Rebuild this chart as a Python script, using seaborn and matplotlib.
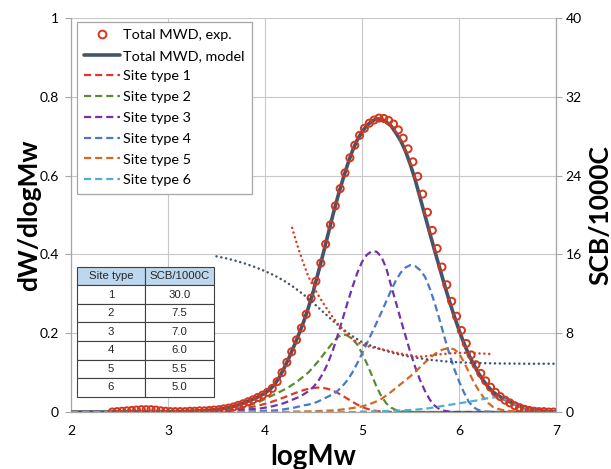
import numpy as np
import pandas as pd
import matplotlib
matplotlib.use("Agg")
import matplotlib.pyplot as plt
import seaborn as sns
from matplotlib.lines import Line2D

# ---------------- data ----------------
# common logMw grid for the model curves: 2.00, 2.05, ..., 7.00
MODEL_DW = [
    0, 0, 0, 0, 0, 0, 0, 0, 0, 0,
    0, 0, 0, 0, 0, 0, 0, 0, 0, 0,
    .0005, .0005, .001, .001, .0015, .002, .0025, .003, .004, .005,
    .006, .008, .010, .013, .016, .020, .025, .030, .035, .041,
    .048, .057, .070, .089, .113, .139, .168, .198, .230, .267,
    .308, .355, .402, .451, .500, .546, .588, .627, .662, .690,
    .711, .727, .738, .744, .743, .736, .726, .708, .688, .661,
    .627, .588, .543, .498, .453, .409, .366, .323, .282, .244,
    .208, .175, .146, .121, .099, .080, .064, .051, .042, .035,
    .029, .023, .018, .013, .009, .006, .004, .0025, .0015, .001,
    .0005]

SITE1_DW = [
    0, 0, 0, 0, 0, 0, 0, 0, 0, 0,
    0, 0, 0, 0, 0, 0, 0, 0, 0, 0,
    .0003, .0004, .0005, .0007, .0008, .0010, .0013, .0016, .0020, .0025,
    .0030, .0038, .0046, .0056, .0069, .0084, .0101, .0122, .0147, .0175,
    .0207, .0243, .0284, .0328, .0374, .0422, .0471, .0516, .0557, .0590,
    .0612, .0620, .0612, .0585, .0542, .0483, .0413, .0337, .0261, .0190,
    .0130, .0082, .0048, .0025, .0012, .0005, .0002, 0, 0, 0,
    0, 0, 0, 0, 0, 0, 0, 0, 0, 0,
    0, 0, 0, 0, 0, 0, 0, 0, 0, 0,
    0, 0, 0, 0, 0, 0, 0, 0, 0, 0,
    0]

SITE2_DW = [
    0, 0, 0, 0, 0, 0, 0, 0, 0, 0,
    0, 0, 0, 0, 0, 0, 0, 0, 0, 0,
    0, 0, 0, 0, .0005, .0008, .001, .0015, .002, .0025,
    .003, .004, .005, .006, .008, .010, .014, .018, .022, .027,
    .033, .039, .045, .051, .057, .064, .072, .081, .091, .101,
    .115, .129, .145, .161, .176, .190, .197, .194, .185, .172,
    .149, .123, .094, .064, .040, .022, .011, .005, .002, .001,
    0, 0, 0, 0, 0, 0, 0, 0, 0, 0,
    0, 0, 0, 0, 0, 0, 0, 0, 0, 0,
    0, 0, 0, 0, 0, 0, 0, 0, 0, 0,
    0]

SITE3_DW = [
    0, 0, 0, 0, 0, 0, 0, 0, 0, 0,
    0, 0, 0, 0, 0, 0, 0, 0, 0, 0,
    0, 0, 0, 0, 0, 0, 0, 0, .0005, .001,
    .0015, .002, .0025, .003, .004, .005, .006, .007, .008, .009,
    .011, .013, .016, .019, .023, .028, .033, .038, .045, .053,
    .064, .079, .099, .125, .157, .195, .236, .277, .316, .352,
    .381, .399, .408, .407, .394, .365, .321, .278, .234, .192,
    .150, .113, .080, .053, .031, .016, .007, .003, .001, 0,
    0, 0, 0, 0, 0, 0, 0, 0, 0, 0,
    0, 0, 0, 0, 0, 0, 0, 0, 0, 0,
    0]

SITE4_DW = [
    0, 0, 0, 0, 0, 0, 0, 0, 0, 0,
    0, 0, 0, 0, 0, 0, 0, 0, 0, 0,
    0, 0, 0, 0, 0, 0, 0, 0, 0, 0,
    0, 0, 0, 0, 0, 0, .001, .0015, .002, .0025,
    .003, .0035, .004, .005, .007, .009, .011, .014, .017, .019,
    .022, .027, .033, .039, .045, .054, .066, .081, .100, .123,
    .148, .174, .200, .226, .253, .281, .309, .334, .354, .367,
    .373, .370, .360, .343, .313, .276, .234, .190, .148, .110,
    .078, .050, .026, .012, .005, .002, .001, 0, 0, 0,
    0, 0, 0, 0, 0, 0, 0, 0, 0, 0,
    0]

SITE5_DW = [
    0, 0, 0, 0, 0, 0, 0, 0, 0, 0,
    0, 0, 0, 0, 0, 0, 0, 0, 0, 0,
    0, 0, 0, 0, 0, 0, 0, 0, 0, 0,
    0, 0, 0, 0, 0, 0, 0, 0, 0, 0,
    0, 0, 0, 0, 0, 0, .001, .001, .0015, .0015,
    .002, .0025, .003, .0035, .004, .005, .0065, .008, .010, .012,
    .014, .018, .022, .027, .033, .042, .051, .061, .071, .081,
    .091, .102, .114, .126, .137, .147, .155, .160, .162, .159,
    .149, .127, .102, .077, .056, .038, .023, .013, .008, .005,
    .003, .002, .001, 0, 0, 0, 0, 0, 0, 0,
    0]

SITE6_DW = [
    0, 0, 0, 0, 0, 0, 0, 0, 0, 0,
    0, 0, 0, 0, 0, 0, 0, 0, 0, 0,
    0, 0, 0, 0, 0, 0, 0, 0, 0, 0,
    0, 0, 0, 0, 0, 0, 0, 0, 0, 0,
    0, 0, 0, 0, 0, 0, 0, 0, 0, 0,
    0, 0, 0, 0, 0, 0, 0, 0, 0, 0,
    .001, .001, .0015, .0015, .002, .0025, .003, .0035, .004, .0045,
    .005, .006, .007, .008, .010, .012, .014, .016, .018, .020,
    .022, .024, .026, .028, .030, .033, .035, .037, .037, .034,
    .029, .023, .017, .012, .008, .005, .003, .002, .001, 0,
    0]

# experimental MWD points: logMw = 2.425, 2.475, ..., 6.975
EXP_DW = [
    .000, .001, .002, .003, .004, .005, .006, .006, .006, .005,
    .003, .002, .001, .001, .001, .001, .002, .002, .003, .003,
    .004, .005, .006, .008, .010, .013, .017, .021, .026, .031,
    .037, .043, .050, .060, .077, .100, .126, .153, .183, .213,
    .248, .289, .332, .378, .426, .475, .523, .567, .607, .645,
    .677, .702, .720, .733, .741, .746, .745, .740, .731, .716,
    .695, .668, .635, .598, .553, .507, .461, .415, .368, .323,
    .281, .243, .207, .174, .145, .120, .098, .079, .063, .050,
    .039, .030, .023, .016, .011, .007, .004, .002, .001, .001,
    .000, .000]

# SCB/1000C (right axis)
SCB_MODEL_LOGMW = [3.5, 3.6, 3.7, 3.8, 3.9, 4.0, 4.1, 4.2, 4.3, 4.4, 4.5, 4.6,
                   4.7, 4.8, 4.9, 5.0, 5.1, 5.2, 5.3, 5.4, 5.5, 5.6, 5.7, 5.8,
                   5.9, 6.0, 6.1, 6.2, 6.3, 6.4, 6.5, 6.6, 6.7, 6.8, 6.9, 7.0]
SCB_MODEL = [15.8, 15.6, 15.35, 15.05, 14.7, 14.3, 13.85, 13.3, 12.65, 11.9,
             11.05, 10.15, 9.25, 8.45, 7.7, 7.1, 6.7, 6.35, 6.05, 5.8, 5.6,
             5.45, 5.3, 5.2, 5.1, 5.05, 5.0, 4.97, 4.95, 4.93, 4.92, 4.91,
             4.9, 4.9, 4.9, 4.9]

SCB_EXP_LOGMW = [4.28, 4.30, 4.35, 4.40, 4.45, 4.50, 4.55, 4.60, 4.65, 4.70,
                 4.75, 4.80, 4.85, 4.90, 4.95, 5.00, 5.05, 5.10, 5.15, 5.20,
                 5.25, 5.30, 5.35, 5.40, 5.45, 5.50, 5.55, 5.60, 5.65, 5.70,
                 5.75, 5.80, 5.85, 5.90, 5.95, 6.00, 6.05, 6.10, 6.15, 6.20,
                 6.25, 6.30, 6.35]
SCB_EXP = [18.7, 18.0, 16.4, 15.0, 13.7, 12.7, 11.85, 11.05, 10.3, 9.6,
           8.95, 8.4, 7.9, 7.4, 7.1, 6.85, 6.7, 6.57, 6.47, 6.38,
           6.27, 6.15, 6.03, 5.93, 5.83, 5.73, 5.65, 5.62, 5.65, 5.72,
           5.79, 5.85, 5.9, 5.94, 5.97, 6.0, 6.01, 6.0, 5.98, 5.95,
           5.93, 5.9, 5.88]

TABLE_SITES = ["1", "2", "3", "4", "5", "6"]
TABLE_SCB = ["30.0", "7.5", "7.0", "6.0", "5.5", "5.0"]

LEGEND_LABELS = ["Total MWD, exp.", "Total MWD, model", "Site type 1",
                 "Site type 2", "Site type 3", "Site type 4", "Site type 5",
                 "Site type 6"]
X_TICKS = [2, 3, 4, 5, 6, 7]
Y_TICKS = [0, 0.2, 0.4, 0.6, 0.8, 1.0]
Y_TICKLABELS = ["0", "0.2", "0.4", "0.6", "0.8", "1"]
Y2_TICKS = [0, 8, 16, 24, 32, 40]

# ---------------- styling ----------------
EXP_RED = "#D2381F"
MODEL_C = "#44546A"
SITE_COLORS = ["#DC3A26", "#5B8C32", "#7432A8", "#4A78C8", "#D4691E", "#4DB0CF"]
GRID_C = "#C8C8C8"
AX_C = "#A6A6A6"
DASH = (0, (3.2, 1.8))
DOT = (0, (0.05, 1.9))

sns.set_theme(style="white")
plt.rcParams["font.family"] = ["Lato", "DejaVu Sans"]

logmw = [round(2.0 + 0.05 * i, 2) for i in range(len(MODEL_DW))]
exp_logmw = [round(2.425 + 0.05 * i, 3) for i in range(len(EXP_DW))]

curves = pd.DataFrame({"logMw": logmw, "model": MODEL_DW,
                       "s1": SITE1_DW, "s2": SITE2_DW, "s3": SITE3_DW,
                       "s4": SITE4_DW, "s5": SITE5_DW, "s6": SITE6_DW})
exp_df = pd.DataFrame({"logMw": exp_logmw, "dw": EXP_DW})
scb_m = pd.DataFrame({"logMw": SCB_MODEL_LOGMW, "scb": SCB_MODEL})
scb_e = pd.DataFrame({"logMw": SCB_EXP_LOGMW, "scb": SCB_EXP})

fig = plt.figure(figsize=(6.11, 4.69), dpi=100)
ax = fig.add_axes([71 / 611, 1 - 412 / 469, 485 / 611, 394 / 469])

# model total
sns.lineplot(data=curves, x="logMw", y="model", ax=ax, color=MODEL_C,
             linewidth=2.6, errorbar=None, zorder=3)
# site components
for i, col in enumerate(["s1", "s2", "s3", "s4", "s5", "s6"]):
    sns.lineplot(data=curves, x="logMw", y=col, ax=ax, color=SITE_COLORS[i],
                 linewidth=1.6, linestyle=DASH, errorbar=None, zorder=4)
# experimental points
sns.scatterplot(data=exp_df, x="logMw", y="dw", ax=ax, marker="o", s=26,
                color=EXP_RED, facecolors="none", edgecolor=EXP_RED,
                linewidth=1.4, zorder=5)

ax.set_xlim(2, 7)
ax.set_ylim(0, 1)
ax.set_xticks(X_TICKS)
ax.set_xticklabels([str(t) for t in X_TICKS])
ax.set_yticks(Y_TICKS)
ax.set_yticklabels(Y_TICKLABELS)
ax.grid(True, color=GRID_C, linewidth=0.8)
ax.set_axisbelow(True)
for s in ["left", "bottom"]:
    ax.spines[s].set_color(AX_C)
    ax.spines[s].set_linewidth(0.9)
ax.spines["top"].set_visible(False)
ax.spines["right"].set_visible(False)
ax.tick_params(axis="y", which="both", left=True, direction="out", length=4,
               width=0.8, color=AX_C, pad=5, labelsize=10, labelcolor="#000000")
ax.tick_params(axis="x", which="both", bottom=False, length=0, pad=9,
               labelsize=10, labelcolor="#000000")

ax.set_xlabel("logMw", fontsize=20, fontweight="bold", color="#000000")
ax.set_ylabel("dW/dlogMw", fontsize=19, fontweight="bold", color="#000000")
ax.xaxis.set_label_coords(0.5, -0.08)
ax.yaxis.set_label_coords(-0.062, 0.5)

# right axis: SCB
ax2 = ax.twinx()
sns.lineplot(data=scb_m, x="logMw", y="scb", ax=ax2, color=MODEL_C,
             linewidth=1.8, linestyle=DOT, errorbar=None, dash_capstyle="round")
sns.lineplot(data=scb_e, x="logMw", y="scb", ax=ax2, color=SITE_COLORS[0],
             linewidth=1.8, linestyle=DOT, errorbar=None, dash_capstyle="round")
ax2.set_ylim(0, 40)
ax2.set_yticks(Y2_TICKS)
ax2.set_yticklabels([str(t) for t in Y2_TICKS])
ax2.grid(False)
for s in ["left", "top", "bottom"]:
    ax2.spines[s].set_visible(False)
ax2.spines["right"].set_color(AX_C)
ax2.spines["right"].set_linewidth(0.9)
ax2.tick_params(axis="y", right=True, direction="out", length=4, width=0.8,
                color=AX_C, pad=3, labelsize=10, labelcolor="#000000")
ax2.set_ylabel("SCB/1000C", fontsize=19, fontweight="bold", color="#000000")
ax2.yaxis.set_label_coords(1.066, 0.5)

# legend
handles = [Line2D([], [], linestyle="none", marker="o", markersize=5.6,
                  markerfacecolor="none", markeredgecolor=EXP_RED,
                  markeredgewidth=1.4),
           Line2D([], [], color=MODEL_C, linewidth=2.6)]
for c in SITE_COLORS:
    handles.append(Line2D([], [], color=c, linewidth=1.6, linestyle=DASH))
leg = ax2.legend(handles, LEGEND_LABELS, loc="upper left",
                 bbox_to_anchor=(0.0118, 0.991), borderaxespad=0,
                 fontsize=10.4, frameon=True, fancybox=False, edgecolor="#A6A6A6",
                 framealpha=1, labelspacing=0.6, handlelength=2.5,
                 handletextpad=0.2, borderpad=0.5)
leg.get_frame().set_linewidth(0.9)
for t in leg.get_texts():
    t.set_color("#000000")

# table of SCB per site type
cell_text = [[s, v] for s, v in zip(TABLE_SITES, TABLE_SCB)]
tab = ax2.table(cellText=cell_text, colLabels=["Site type", "SCB/1000C"],
                cellLoc="center", bbox=[0.0118, 0.0388, 0.283, 0.33],
                zorder=6)
tab.auto_set_font_size(False)
for (r, c), cell in tab.get_celld().items():
    cell.set_edgecolor("#404040")
    cell.set_linewidth(0.8)
    cell.get_text().set_fontsize(8.2)
    cell.get_text().set_fontfamily(["Liberation Sans", "DejaVu Sans"])
    if r == 0:
        cell.set_facecolor("#BDD7EE")
    else:
        cell.set_facecolor("white")

fig.savefig("out.png", dpi=100)
